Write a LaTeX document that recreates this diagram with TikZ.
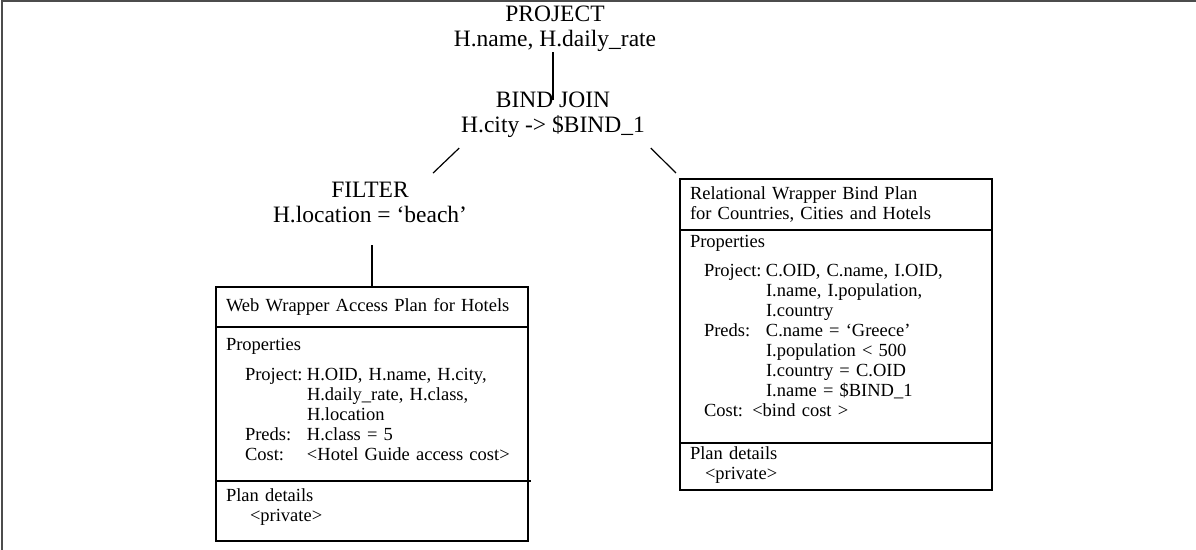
\documentclass[tikz,border=0pt]{standalone}
\usepackage{fontspec}
\setmainfont{Liberation Serif}
\usetikzlibrary{positioning}

\newcommand{\opfont}{\fontsize{11.75pt}{12.75pt}\selectfont}
\newcommand{\boxfont}{\fontsize{9.25pt}{10pt}\selectfont\lineskiplimit=-5pt}
\newlength{\proplab}\setlength{\proplab}{31pt}
\newcommand{\proprow}[2]{\makebox[\proplab][l]{#1}#2}

\begin{document}
\begin{tikzpicture}[
  x=0.5pt, y=-0.5pt,
  every node/.style={inner sep=0pt, outer sep=0pt},
  op/.style={align=center, font=\opfont, anchor=base},
  part/.style={draw, line width=0.6pt, align=left, font=\boxfont,
               text width=146pt, inner xsep=5pt, inner ysep=0pt},
  link/.style={line width=0.6pt},
  frame/.style={line width=1pt, black!70}
]
\useasboundingbox (0,0) rectangle (1196,550);
\draw[frame] (1196,1) -- (2,1) -- (2,550);

% operator tree
\node[op] (project) at (555,47) {PROJECT\\H.name, H.daily\_rate};
\node[op] (bind) at (553,133) {BIND JOIN\\H.city -> \$BIND\_1};
\node[op] (filter) at (370,223) {FILTER\\H.location = `beach'};

% web wrapper plan
\node[part, anchor=north west, text height=12.5pt, text depth=7.5pt] (webhead) at (216,287)
  {Web Wrapper Access Plan for Hotels};
\node[part, below=0pt of webhead, text height=12pt, text depth=65pt] (webprops)
  {Properties\\[5pt]
   \hspace*{9.5pt}\proprow{Project:}{H.OID, H.name, H.city,}\\
   \hspace*{9.5pt}\proprow{}{H.daily\_rate, H.class,}\\
   \hspace*{9.5pt}\proprow{}{H.location}\\
   \hspace*{9.5pt}\proprow{Preds:}{H.class = 5}\\
   \hspace*{9.5pt}\proprow{Cost:}{<Hotel Guide access cost>}};
\node[part, below=0pt of webprops, text height=10.5pt, text depth=19.5pt] (webplan)
  {Plan details\\ \hspace*{12pt}<private>};

% relational wrapper plan
\node[part, anchor=north west, text height=10.5pt, text depth=15pt] (relhead) at (680,179)
  {Relational Wrapper Bind Plan\\for Countries, Cities and Hotels};
\node[part, below=0pt of relhead, text height=9pt, text depth=97.5pt] (relprops)
  {Properties\\[4.5pt]
   \hspace*{7pt}\proprow{Project:}{C.OID, C.name, I.OID,}\\
   \hspace*{7pt}\proprow{}{I.name, I.population,}\\
   \hspace*{7pt}\proprow{}{I.country}\\
   \hspace*{7pt}\proprow{Preds:}{C.name = `Greece'}\\
   \hspace*{7pt}\proprow{}{I.population < 500}\\
   \hspace*{7pt}\proprow{}{I.country = C.OID}\\
   \hspace*{7pt}\proprow{}{I.name = \$BIND\_1}\\
   \hspace*{7pt}Cost: <bind cost >};
\node[part, below=0pt of relprops, text height=8.5pt, text depth=15pt] (relplan)
  {Plan details\\ \hspace*{7.5pt}<private>};

% edges
\draw[link, shorten >=-4pt] (bind.north |- project.south) -- (bind.north);
\draw[link] ([shift={(-2,10)}]bind.south west) -- ([shift={(63,-9)}]filter.north);
\draw[link] ([shift={(6,10)}]bind.south east) -- ([shift={(-4,-6)}]relhead.north west);
\draw[link, shorten >=11pt] (webhead.north) -- (webhead.north |- filter.south);
\draw[link] (webprops.south east) -- ++(3,0);
\end{tikzpicture}
\end{document}
